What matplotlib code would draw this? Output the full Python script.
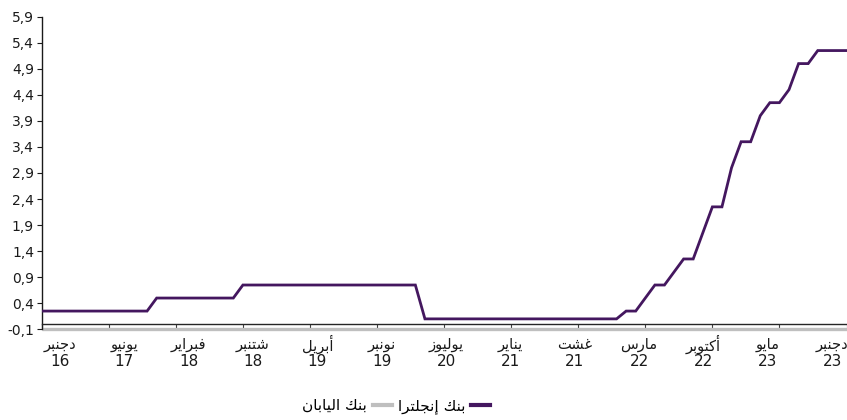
import numpy as np
import matplotlib
matplotlib.use("Agg")
import matplotlib.pyplot as plt
from matplotlib.lines import Line2D
from matplotlib import transforms
from matplotlib.ticker import FuncFormatter, FixedLocator

# ---------------- data ----------------
boe_rate = [0.25] * 12 + [0.5] * 9 + [0.75] * 19 + [0.1] * 21 + \
    [0.25, 0.25, 0.5, 0.75, 0.75, 1.0, 1.25, 1.25, 1.75, 2.25, 2.25,
     3.0, 3.5, 3.5, 4.0, 4.25, 4.25, 4.5, 5.0, 5.0, 5.25, 5.25, 5.25, 5.25]
boj_rate = [-0.1] * len(boe_rate)

month_labels = ["دجنبر", "يونيو", "فبراير", "شتنبر", "أبريل", "نونبر", "يوليوز",
                "يناير", "غشت", "مارس", "أكتوبر", "مايو", "دجنبر"]
year_labels = ["16", "17", "18", "18", "19", "19", "20", "21", "21", "22", "22", "23", "23"]
series_names = ["بنك إنجلترا", "بنك اليابان"]
y_ticks = [-0.1, 0.4, 0.9, 1.4, 1.9, 2.4, 2.9, 3.4, 3.9, 4.4, 4.9, 5.4, 5.9]

# ------------- Arabic shaping (presentation forms + RTL) -------------
FORMS = {
    '\u0627': (0xFE8D, 0xFE8E, None, None),
    '\u0623': (0xFE83, 0xFE84, None, None),
    '\u0625': (0xFE87, 0xFE88, None, None),
    '\u0628': (0xFE8F, 0xFE90, 0xFE91, 0xFE92),
    '\u062A': (0xFE95, 0xFE96, 0xFE97, 0xFE98),
    '\u062C': (0xFE9D, 0xFE9E, 0xFE9F, 0xFEA0),
    '\u062F': (0xFEA9, 0xFEAA, None, None),
    '\u0631': (0xFEAD, 0xFEAE, None, None),
    '\u0632': (0xFEAF, 0xFEB0, None, None),
    '\u0633': (0xFEB1, 0xFEB2, 0xFEB3, 0xFEB4),
    '\u0634': (0xFEB5, 0xFEB6, 0xFEB7, 0xFEB8),
    '\u063A': (0xFECD, 0xFECE, 0xFECF, 0xFED0),
    '\u0641': (0xFED1, 0xFED2, 0xFED3, 0xFED4),
    '\u0643': (0xFED9, 0xFEDA, 0xFEDB, 0xFEDC),
    '\u0644': (0xFEDD, 0xFEDE, 0xFEDF, 0xFEE0),
    '\u0645': (0xFEE1, 0xFEE2, 0xFEE3, 0xFEE4),
    '\u0646': (0xFEE5, 0xFEE6, 0xFEE7, 0xFEE8),
    '\u0648': (0xFEED, 0xFEEE, None, None),
    '\u064A': (0xFEF1, 0xFEF2, 0xFEF3, 0xFEF4),
}
LAMALEF = {'\u0627': (0xFEFB, 0xFEFC), '\u0623': (0xFEF7, 0xFEF8), '\u0625': (0xFEF9, 0xFEFA)}


def shape(s):
    ch = list(s)
    out = []
    i = 0
    while i < len(ch):
        c = ch[i]
        if c not in FORMS:
            out.append(c)
            i += 1
            continue
        prev = ch[i - 1] if i > 0 else None
        jp = prev in FORMS and FORMS[prev][2] is not None
        if c == '\u0644' and i + 1 < len(ch) and ch[i + 1] in LAMALEF:
            f = LAMALEF[ch[i + 1]]
            out.append(chr(f[1] if jp else f[0]))
            i += 2
            continue
        nxt = ch[i + 1] if i + 1 < len(ch) else None
        jn = FORMS[c][2] is not None and nxt in FORMS
        iso, fin, ini, med = FORMS[c]
        g = med if (jp and jn) else fin if jp else ini if jn else iso
        out.append(chr(g))
        i += 1
    return ''.join(reversed(out))


# ---------------- figure ----------------
plt.rcParams['font.family'] = ['DejaVu Sans']
W, H = 847, 420
fig = plt.figure(figsize=(W / 100, H / 100), dpi=100)
ax = fig.add_axes([41.7 / W, 90.7 / H, (846.5 - 41.7) / W, (403.3 - 90.7) / H])

purple = '#44175f'
grey = '#bfbfbf'
x = np.arange(len(boe_rate))

ax.plot(x, boj_rate, color=grey, lw=2.4, clip_on=False, zorder=2, solid_capstyle='butt')
ax.plot(x, boe_rate, color=purple, lw=2.0, zorder=3, solid_joinstyle='miter')

ax.set_xlim(0, len(boe_rate) - 1)
ax.set_ylim(y_ticks[0], y_ticks[-1])

for s in ['top', 'right']:
    ax.spines[s].set_visible(False)
ax.spines['left'].set_color('#1a1a1a')
ax.spines['left'].set_linewidth(1.0)
ax.spines['bottom'].set_position(('data', 0))
ax.spines['bottom'].set_color('#262626')
ax.spines['bottom'].set_linewidth(1.0)
ax.spines['bottom'].set_zorder(4)

ax.yaxis.set_major_locator(FixedLocator(y_ticks))
ax.yaxis.set_major_formatter(FuncFormatter(lambda v, p: f"{v:.1f}".replace('.', ',')))
ax.tick_params(axis='y', direction='out', length=3.5, width=0.8, color='#1a1a1a',
               labelsize=10, labelcolor='#1a1a1a', pad=2)

ax.set_xticks(np.arange(0, len(boe_rate), 7))
ax.set_xticklabels([])
ax.tick_params(axis='x', direction='out', length=3.8, width=0.8, color='#404040')

# category labels (evenly spread, Excel-like inset)
label_x = np.linspace(1.9, 82.5, len(month_labels))
tr = transforms.blended_transform_factory(ax.transData, fig.transFigure)
for lx, m, yv in zip(label_x, month_labels, year_labels):
    ax.text(lx, 1 - 344.5 / H, shape(m), transform=tr, ha='center', va='center',
            fontsize=10.5, color='#1a1a1a', family='DejaVu Sans')
    ax.text(lx, 1 - 361.5 / H, yv, transform=tr, ha='center', va='center',
            fontsize=11, color='#1a1a1a', family='DejaVu Sans')

handles = [Line2D([], [], color=grey, lw=3), Line2D([], [], color=purple, lw=3)]
labels = [shape(series_names[1]), shape(series_names[0])]
fig.legend(handles, labels, ncol=2, markerfirst=False, frameon=False, loc='center',
           bbox_to_anchor=(396 / W, 1 - 406 / H), bbox_transform=fig.transFigure,
           fontsize=11, handlelength=1.25, handletextpad=0.35, columnspacing=0.4,
           borderpad=0, borderaxespad=0)

fig.savefig('out.png', dpi=100)
